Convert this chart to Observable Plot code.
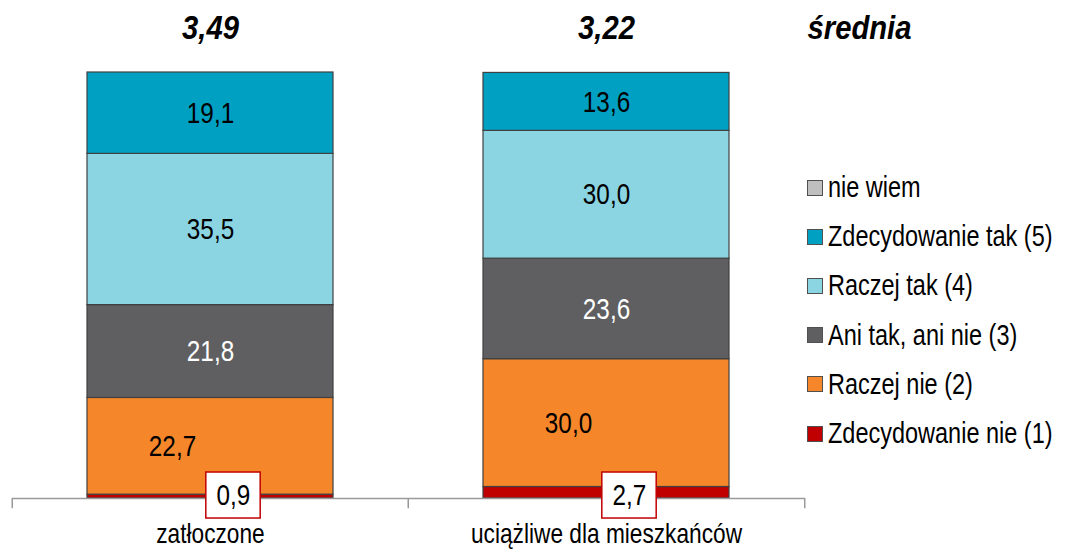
<!DOCTYPE html>
<html><head><meta charset="utf-8">
<script src="https://cdn.jsdelivr.net/npm/d3@7"></script>
<script src="https://cdn.jsdelivr.net/npm/@observablehq/plot@0.6"></script>
<style>
body{margin:0;background:#fff;}
#wrap{position:relative;width:1085px;height:551px;font-family:"Liberation Sans",Arial,sans-serif;}
#legend{position:absolute;left:807px;top:163px;}
.li{display:flex;align-items:center;height:49.2px;color:#000;white-space:nowrap;}
.sw{width:16px;height:16px;border:1.5px solid #505050;box-sizing:border-box;margin-right:5px;flex:none;}
.lt{display:inline-block;font-size:29px;transform:scaleX(0.81);transform-origin:left center;}
</style></head>
<body><div id="wrap"><div id="legend"></div></div>
<script>
const categories = ["zatłoczone", "uciążliwe dla mieszkańców"];
const series = ["Zdecydowanie nie (1)", "Raczej nie (2)", "Ani tak, ani nie (3)", "Raczej tak (4)", "Zdecydowanie tak (5)", "nie wiem"];
const zdecydowanieNie = [0.9, 2.7];
const raczejNie = [22.7, 30.0];
const aniTakAniNie = [21.8, 23.6];
const raczejTak = [35.5, 30.0];
const zdecydowanieTak = [19.1, 13.6];
const nieWiem = [0, 0];
const means = ["3,49", "3,22"];
const meanLabel = "średnia";
const colors = ["#C00000", "#F5872A", "#5F5F61", "#8BD5E2", "#00A0C2", "#BFBFBF"];
const legendOrder = ["nie wiem", "Zdecydowanie tak (5)", "Raczej tak (4)", "Ani tak, ani nie (3)", "Raczej nie (2)", "Zdecydowanie nie (1)"];

const seriesValues = [zdecydowanieNie, raczejNie, aniTakAniNie, raczejTak, zdecydowanieTak, nieWiem];
const rows = [];
categories.forEach((c, ci) => {
  let acc = 0;
  series.forEach((s, si) => {
    const v = seriesValues[si][ci];
    rows.push({category: c, series: s, value: v, y1: acc, y2: acc + v, mid: acc + v / 2});
    acc += v;
  });
});
const fmt = v => v.toFixed(1).replace(".", ",");

const W = 1085, H = 551, mL = 12, mR = 280, mT = 72, mB = 53, pad = 0.378;
const step = (W - mL - mR) / categories.length;
const bw = step * (1 - pad);
const boxW = 55, boxOff = 23;
const boxInL = bw / 2 + boxOff - boxW / 2;
const boxInR = bw - boxInL - boxW;

const font = '"Liberation Sans",Arial,sans-serif';
const centered = rows.filter(d => d.value >= 5 && d.series !== "Raczej nie (2)");
const shifted = rows.filter(d => d.series === "Raczej nie (2)");
const callouts = rows.filter(d => d.series === "Zdecydowanie nie (1)");

const chart = Plot.plot({
  width: W, height: H,
  marginLeft: mL, marginRight: mR, marginTop: mT, marginBottom: mB,
  style: {fontFamily: font, background: "transparent", overflow: "visible", color: "#000"},
  x: {domain: categories, paddingInner: pad, paddingOuter: pad / 2, axis: null},
  y: {domain: [0, 100], axis: null},
  color: {domain: series, range: colors},
  marks: [
    Plot.barY(rows.filter(d => d.value > 0), {x: "category", y1: "y1", y2: "y2", fill: "series", stroke: "#404040", strokeWidth: 1.2}),
    Plot.ruleY([0], {stroke: "#9A9A9A", strokeWidth: 1.5}),
    Plot.ruleX(categories, {x: d => d, dx: -step / 2, y1: 0, y2: -2.4, stroke: "#9A9A9A", strokeWidth: 1.5}),
    Plot.ruleX(categories.slice(-1), {x: d => d, dx: step / 2, y1: 0, y2: -2.4, stroke: "#9A9A9A", strokeWidth: 1.5}),
    Plot.text(categories, {x: d => d, frameAnchor: "bottom", lineAnchor: "middle", dy: 36, text: d => d, fontSize: 28, fill: "#000"}),
    Plot.text(centered, {x: "category", y: "mid", text: d => fmt(d.value), fontSize: 30,
      fill: d => d.series === "Ani tak, ani nie (3)" ? "#fff" : "#000"}),
    Plot.text(shifted, {x: "category", y: "mid", text: d => fmt(d.value), fontSize: 30, dx: -38, fill: "#000"}),
    Plot.barY(callouts, {x: "category", y1: -4.7, y2: 6.1, insetLeft: boxInL, insetRight: boxInR, fill: "#fff", stroke: "#C00000", strokeWidth: 1.5}),
    Plot.text(callouts, {x: "category", y: 0.7, dx: boxOff, text: d => fmt(d.value), fontSize: 30, fill: "#000"}),
    Plot.text(means, {x: (d, i) => categories[i], frameAnchor: "top", lineAnchor: "middle", dy: -44, text: d => d, fontSize: 34, fontWeight: "bold", fontStyle: "italic", fill: "#000"}),
    Plot.text([meanLabel], {frameAnchor: "top-right", textAnchor: "middle", lineAnchor: "middle", dx: 54, dy: -44, text: d => d, fontSize: 34, fontWeight: "bold", fontStyle: "italic", fill: "#000"})
  ]
});
document.getElementById("wrap").prepend(chart);
// condense glyphs to mimic a narrow typeface
d3.select(chart).selectAll("text").each(function() {
  const len = this.getComputedTextLength();
  const bold = this.closest("g") && this.closest("g").getAttribute("font-weight") === "bold";
  this.setAttribute("textLength", len * (bold ? 0.86 : 0.81));
  this.setAttribute("lengthAdjust", "spacingAndGlyphs");
});

const lg = document.getElementById("legend");
legendOrder.forEach(s => {
  const it = document.createElement("div"); it.className = "li";
  const sw = document.createElement("div"); sw.className = "sw"; sw.style.background = colors[series.indexOf(s)];
  const t = document.createElement("span"); t.className = "lt"; t.textContent = s;
  it.appendChild(sw); it.appendChild(t); lg.appendChild(it);
});
</script></body></html>
